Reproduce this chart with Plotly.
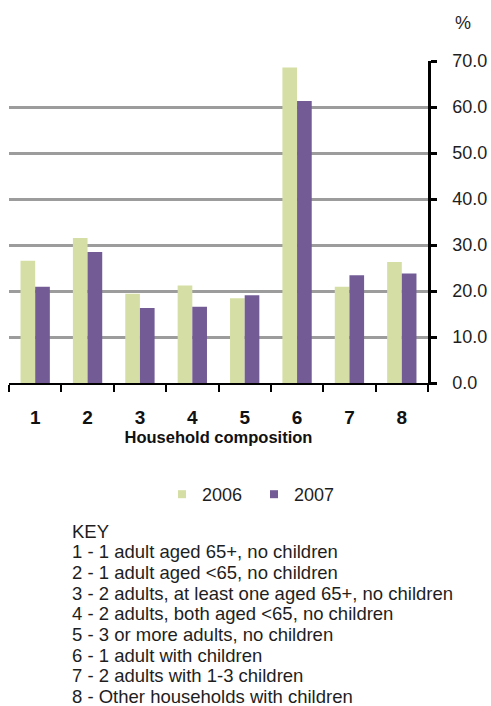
import plotly.graph_objects as go

# Household composition groups and percentages by year
categories = ["1", "2", "3", "4", "5", "6", "7", "8"]
values_2006 = [26.6, 31.5, 19.4, 21.2, 18.4, 68.6, 20.9, 26.3]
values_2007 = [20.9, 28.5, 16.3, 16.6, 19.1, 61.3, 23.4, 23.8]
y_ticks = [0, 10, 20, 30, 40, 50, 60, 70]

key_lines = [
    "KEY",
    "1 - 1 adult aged 65+, no children",
    "2 - 1 adult aged <65, no children",
    "3 - 2 adults, at least one aged 65+, no children",
    "4 - 2 adults, both aged <65, no children",
    "5 - 3 or more adults, no children",
    "6 - 1 adult with children",
    "7 - 2 adults with 1-3 children",
    "8 - Other households with children",
]

GREEN = "#d5dfa5"
PURPLE = "#735c96"
FONT = "Liberation Sans, Arial, sans-serif"
TEXT = "#1e1e1e"

W, H = 491, 706
M_L, M_R, M_T, M_B = 9, 63, 61, 323
PLOT_W = W - M_L - M_R
PLOT_H = H - M_T - M_B


def px_x(px):
    return (px - M_L) / PLOT_W


def px_y(py):
    return (H - M_B - py) / PLOT_H


fig = go.Figure()
fig.add_trace(go.Bar(x=categories, y=values_2006, name="2006", showlegend=False,
                     marker=dict(color=GREEN, line=dict(width=0))))
fig.add_trace(go.Bar(x=categories, y=values_2007, name="2007", showlegend=False,
                     marker=dict(color=PURPLE, line=dict(width=0))))

# Legend entries with small square swatches
for name, color in (("2006", GREEN), ("2007", PURPLE)):
    fig.add_trace(go.Scatter(x=[None], y=[None], mode="markers", name=name,
                             marker=dict(symbol="square", size=8, color=color),
                             showlegend=True, hoverinfo="skip"))

fig.update_layout(
    width=W, height=H,
    margin=dict(l=M_L, r=M_R, t=M_T, b=M_B, autoexpand=False),
    paper_bgcolor="white", plot_bgcolor="white",
    font=dict(family=FONT, color=TEXT),
    barmode="group", bargap=0.44, bargroupgap=0,
    showlegend=True,
    legend=dict(orientation="h", x=px_x(162), y=px_y(476),
                xanchor="left", yanchor="top",
                font=dict(size=18, color=TEXT),
                itemwidth=30, entrywidth=47, traceorder="normal",
                bgcolor="rgba(0,0,0,0)"),
)

fig.update_xaxes(
    type="category", showgrid=False, showline=True, linecolor="black",
    linewidth=2, ticks="outside", tickson="boundaries", ticklen=7,
    tickwidth=2, tickcolor="black", automargin=False,
    tickfont=dict(size=19, color="#111111", weight="bold"),
    ticklabelstandoff=16,
    title=dict(text="Household composition", standoff=0,
               font=dict(size=16.5, color="#111111", weight="bold")),
)

fig.update_yaxes(
    side="right", range=[0, 70], tickvals=y_ticks, tickformat=".1f",
    showgrid=True, gridcolor="#9c9c9c", gridwidth=2.5,
    showline=True, linecolor="black", linewidth=2.5,
    ticks="outside", ticklen=6, tickwidth=2.5, tickcolor="black",
    tickfont=dict(size=18, color=TEXT), ticklabelstandoff=12,
    zeroline=False, automargin=False,
)

# "%" unit label above the value axis
fig.add_annotation(text="%", xref="paper", yref="paper",
                   x=px_x(463), y=px_y(23), showarrow=False,
                   font=dict(size=18, color=TEXT),
                   xanchor="center", yanchor="middle")

# Key describing the household composition groups, one line each
key_top, key_step = 531, 20.7
for i, line in enumerate(key_lines):
    fig.add_annotation(text=line, xref="paper", yref="paper",
                       x=px_x(70), y=px_y(key_top + i * key_step),
                       xanchor="left", yanchor="middle", align="left",
                       showarrow=False, font=dict(size=18.5, color=TEXT))

fig.write_html("out.html")
